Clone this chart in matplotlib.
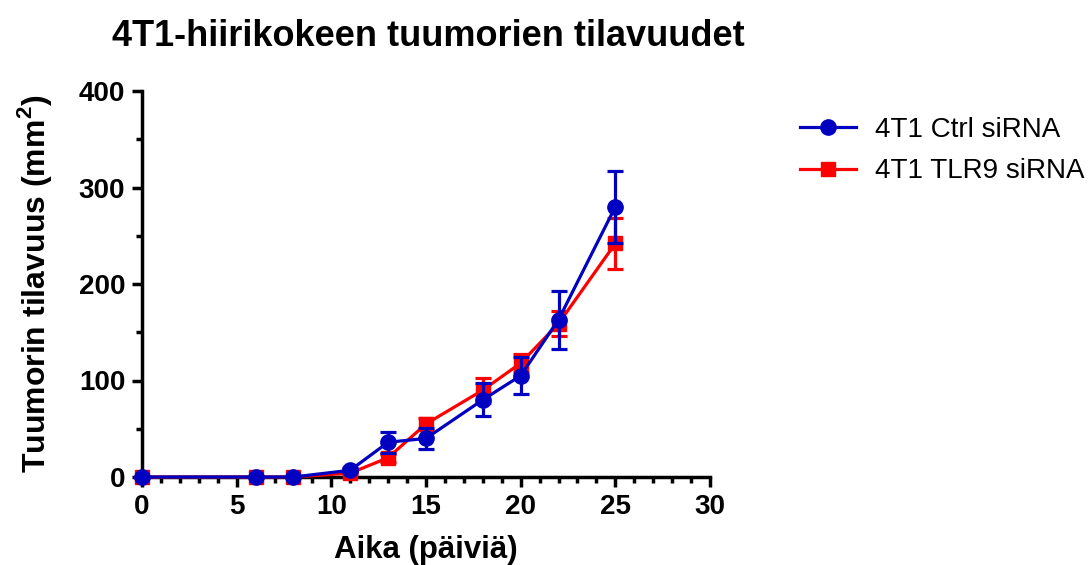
import matplotlib.pyplot as plt
from matplotlib.ticker import MultipleLocator
from matplotlib.lines import Line2D

plt.rcParams['font.family'] = ['Liberation Sans', 'DejaVu Sans']
plt.rcParams['mathtext.fontset'] = 'custom'
plt.rcParams['mathtext.bf'] = 'Liberation Sans:bold'
plt.rcParams['mathtext.rm'] = 'Liberation Sans'

days = [0, 6, 8, 11, 13, 15, 18, 20, 22, 25]
ctrl_mean = [0, 0, 0, 7, 36, 40, 80, 105, 163, 280]
ctrl_err = [0, 0, 0, 2, 11, 11, 17, 19, 30, 37]
tlr9_mean = [0, 0, 0, 4, 20, 55, 90, 118, 159, 242]
tlr9_err = [0, 0, 0, 1, 4, 6, 13, 9, 13, 26]

blue = '#0000c0'
red = '#ff0000'

fig = plt.figure(figsize=(10.88, 5.65), dpi=100)
ax = fig.add_axes([142 / 1088, 88 / 565, 568 / 1088, 386 / 565])

ax.errorbar(days, tlr9_mean, yerr=tlr9_err, color=red, marker='s',
            markersize=9.5, linewidth=2.3, elinewidth=2.3, capsize=5.5, capthick=2.3,
            clip_on=False, zorder=3)
ax.errorbar(days, ctrl_mean, yerr=ctrl_err, color=blue, marker='o',
            markersize=11, linewidth=2.3, elinewidth=2.3, capsize=5.5, capthick=2.3,
            clip_on=False, zorder=4)

ax.set_xlim(0, 30)
ax.set_ylim(0, 400)
ax.xaxis.set_major_locator(MultipleLocator(5))
ax.xaxis.set_minor_locator(MultipleLocator(1))
ax.yaxis.set_major_locator(MultipleLocator(100))
ax.yaxis.set_minor_locator(MultipleLocator(50))
for s in ['top', 'right']:
    ax.spines[s].set_visible(False)
for s in ['left', 'bottom']:
    ax.spines[s].set_linewidth(2.5)
ax.tick_params(which='major', length=7, width=2.5, labelsize=20, pad=5)
ax.tick_params(which='minor', length=4.5, width=2.5)
for lbl in ax.get_xticklabels() + ax.get_yticklabels():
    lbl.set_fontweight('bold')

ax.set_xlabel('Aika (päiviä)', fontsize=22.5, fontweight='bold', labelpad=11)
ax.set_ylabel('Tuumorin tilavuus (mm$^\\mathbf{2}$)', fontsize=23,
              fontweight='bold', labelpad=18)
fig.text(428 / 1088, 1 - 36 / 565, '4T1-hiirikokeen tuumorien tilavuudet',
         fontsize=26, fontweight='bold', ha='center', va='center')

handles = [
    Line2D([], [], color=blue, marker='o', markersize=11, linewidth=2.3),
    Line2D([], [], color=red, marker='s', markersize=9.5, linewidth=2.3),
]
fig.legend(handles, ['4T1 Ctrl siRNA', '4T1 TLR9 siRNA'], loc='upper left',
           bbox_to_anchor=(775 / 1088, 1 - 92 / 565), frameon=False,
           fontsize=20, handlelength=2.0, handletextpad=0.7, labelspacing=0.55)

fig.savefig('out.png', dpi=100)
